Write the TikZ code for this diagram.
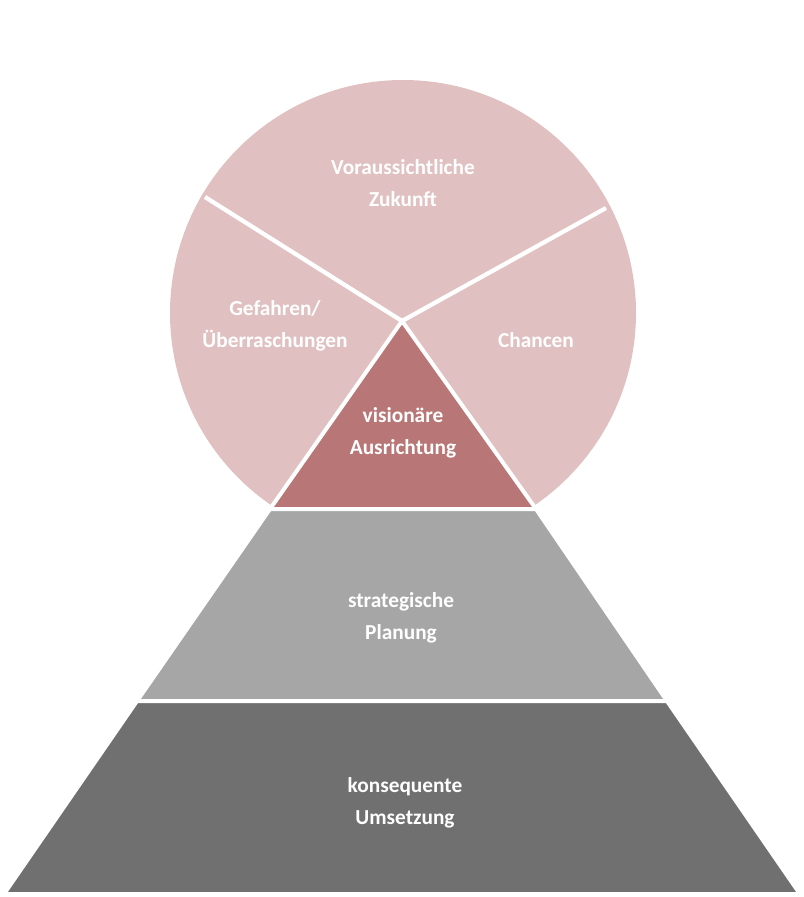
\documentclass[tikz,border=0pt]{standalone}
\usepackage{fontspec}
\setmainfont{Carlito}
\definecolor{lpink}{HTML}{E0C0C0}
\definecolor{dpink}{HTML}{B87676}
\definecolor{lgray}{HTML}{A6A6A6}
\definecolor{dgray}{HTML}{707070}
\begin{document}
\begin{tikzpicture}[x=0.75pt,y=-0.75pt,
  lbl/.style={text=white,font=\bfseries\fontsize{16}{24}\selectfont,align=center},
  sep/.style={draw=white,line width=3pt}]
\useasboundingbox (0,0) rectangle (804,897);
\fill[lpink] (403,313) circle[radius=233];
\coordinate (apex) at (402,321);
\coordinate (l1) at (205,197);
\coordinate (r1) at (606,208);
\draw[white,line width=3.2] (apex) -- (l1) (apex) -- (r1);
\filldraw[fill=dpink,sep] (apex) -- (270,509) -- (536,509) -- cycle;
\filldraw[fill=lgray,sep] (270,509) -- (536,509) -- (667,701) -- (137,701) -- cycle;
\filldraw[fill=dgray,sep] (137,701) -- (667,701) -- (800,894) -- (4,894) -- cycle;
\node[lbl] (a) at (403,183) {Voraussichtliche\\Zukunft};
\node[lbl] (b) at (275,326) {Gefahren/\\Überraschungen};
\node[lbl] (c) at (536,340) {Chancen};
\node[lbl] (d) at (403,433) {visionäre\\Ausrichtung};
\node[lbl] (e) at (401,618) {strategische\\Planung};
\node[lbl] (f) at (405,803) {konsequente\\Umsetzung};
\end{tikzpicture}
\end{document}
